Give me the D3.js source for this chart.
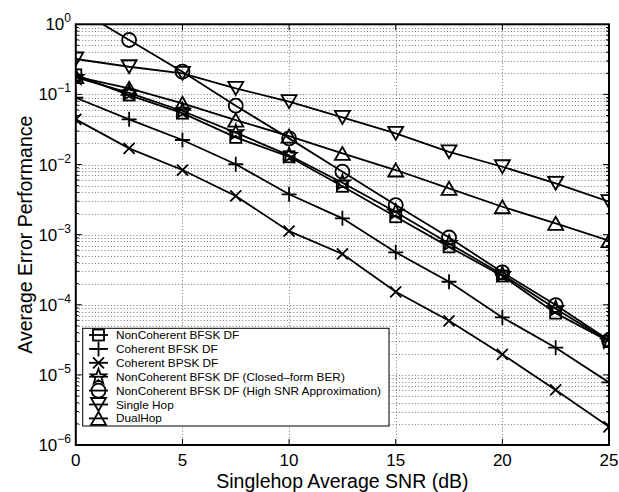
<!DOCTYPE html>
<meta charset="utf-8">
<script src="https://cdn.jsdelivr.net/npm/d3@7"></script>
<style>
  body { margin: 0; background: #fff; }
  text { font-family: "Liberation Sans", Arial, Helvetica, sans-serif; fill: #000; }
</style>
<div id="chart"></div>
<script>
// SNR points (dB)
var snr = [0, 2.5, 5, 7.5, 10, 12.5, 15, 17.5, 20, 22.5, 25];

// error performance per curve
var ncBfskDF     = [0.19, 0.098, 0.054, 0.0244, 0.0129, 0.0049, 0.0018, 6.7e-4, 2.57e-4, 7.6e-5, 3.0e-5];
var cohBfskDF    = [0.0897, 0.0441, 0.0224, 0.0101, 0.00376, 0.00171, 5.6e-4, 2.13e-4, 6.6e-5, 2.44e-5, 7.8e-6];
var cohBpskDF    = [0.0441, 0.017, 0.00835, 0.00356, 0.00112, 5.3e-4, 1.53e-4, 5.9e-5, 1.96e-5, 6.1e-6, 1.82e-6];
var ncClosedForm = [0.175, 0.105, 0.058, 0.0285, 0.0135, 0.0055, 0.0021, 7.5e-4, 2.7e-4, 8.8e-5, 3.0e-5];
var ncHighSNR    = [1.7, 0.597, 0.211, 0.069, 0.0236, 0.0079, 0.00264, 9.1e-4, 2.9e-4, 9.9e-5, 3.1e-5];
var singleHop    = [0.32, 0.248, 0.2, 0.122, 0.0787, 0.047, 0.0279, 0.0152, 0.0093, 0.0054, 0.00295];
var dualHop      = [0.179, 0.122, 0.0746, 0.043, 0.0255, 0.0144, 0.00835, 0.00457, 0.0025, 0.00145, 8.2e-4];

var legendLabels = [
  "NonCoherent BFSK DF",
  "Coherent BFSK DF",
  "Coherent BPSK DF",
  "NonCoherent BFSK DF (Closed\u2013form BER)",
  "NonCoherent BFSK DF (High SNR Approximation)",
  "Single Hop",
  "DualHop"
];
var markers = ["square", "plus", "x", "star", "circle", "tridown", "triup"];
var seriesList = [ncBfskDF, cohBfskDF, cohBpskDF, ncClosedForm, ncHighSNR, singleHop, dualHop];

var xTicks = [0, 5, 10, 15, 20, 25];
var yExps = [0, -1, -2, -3, -4, -5, -6];

var W = 619, H = 492;
var L = 75.8, R = 609, T = 24.3, B = 445;

var svg = d3.select("#chart").append("svg").attr("width", W).attr("height", H);

var x = d3.scaleLinear().domain([0, 25]).range([L, R]);
var y = d3.scaleLog().domain([1e-6, 1]).range([B, T]);

svg.append("clipPath").attr("id", "clip")
  .append("rect").attr("x", L).attr("y", T).attr("width", R - L).attr("height", B - T);

// grid - minor log lines + decades
var minor = [];
yExps.forEach(function (e) {
  if (e > -6) for (var k = 1; k < 10; k++) minor.push(k * Math.pow(10, e - 1));
});
var grid = svg.append("g").attr("stroke", "#555").attr("stroke-width", 0.8).attr("stroke-dasharray", "1,2.2");
grid.selectAll("line.h").data(minor).enter().append("line")
  .attr("x1", L).attr("x2", R)
  .attr("y1", function (d) { return Math.round(y(d)) + 0.5; })
  .attr("y2", function (d) { return Math.round(y(d)) + 0.5; });
grid.selectAll("line.v").data(xTicks.slice(1, -1)).enter().append("line")
  .attr("y1", T).attr("y2", B)
  .attr("x1", function (d) { return Math.round(x(d)) + 0.5; })
  .attr("x2", function (d) { return Math.round(x(d)) + 0.5; });

// ticks (inside, all four sides)
var ticks = svg.append("g").attr("stroke", "#000").attr("stroke-width", 1);
xTicks.forEach(function (d) {
  var px = x(d);
  ticks.append("line").attr("x1", px).attr("x2", px).attr("y1", B).attr("y2", B - 6);
  ticks.append("line").attr("x1", px).attr("x2", px).attr("y1", T).attr("y2", T + 6);
});
minor.forEach(function (d) {
  var py = y(d);
  var major = Math.abs(Math.log10(d) - Math.round(Math.log10(d))) < 1e-9;
  var len = major ? 6 : 3;
  ticks.append("line").attr("x1", L).attr("x2", L + len).attr("y1", py).attr("y2", py);
  ticks.append("line").attr("x1", R).attr("x2", R - len).attr("y1", py).attr("y2", py);
});

// marker drawing
function marker(g, type, cx, cy) {
  var m = g.append("g").attr("transform", "translate(" + cx + "," + cy + ")")
    .attr("fill", "none").attr("stroke", "#000").attr("stroke-width", 1.8);
  if (type === "square") m.append("rect").attr("x", -5.5).attr("y", -5.5).attr("width", 11).attr("height", 11);
  else if (type === "circle") m.append("circle").attr("r", 7);
  else if (type === "plus") m.append("path").attr("d", "M-7.5,0H7.5M0,-7.5V7.5");
  else if (type === "x") m.append("path").attr("d", "M-5.5,-5.5L5.5,5.5M-5.5,5.5L5.5,-5.5");
  else if (type === "tridown") m.append("path").attr("d", "M-7.5,-6.5L7.5,-6.5L0,6.5Z");
  else if (type === "triup") m.append("path").attr("d", "M-7.5,6.5L7.5,6.5L0,-6.5Z");
  else if (type === "star") {
    var pts = [];
    for (var i = 0; i < 10; i++) {
      var r = i % 2 === 0 ? 8 : 3.3;
      var a = -Math.PI / 2 + i * Math.PI / 5;
      pts.push([r * Math.cos(a), r * Math.sin(a)]);
    }
    m.append("path").attr("d", "M" + pts.join("L") + "Z");
  }
}

var plot = svg.append("g").attr("clip-path", "url(#clip)");
var line = d3.line().x(function (d) { return x(d[0]); }).y(function (d) { return y(d[1]); });

seriesList.forEach(function (vals, i) {
  var pts = snr.map(function (s, j) { return [s, vals[j]]; });
  plot.append("path").datum(pts).attr("d", line)
    .attr("fill", "none").attr("stroke", "#000").attr("stroke-width", 1.8);
  pts.forEach(function (p) {
    if (p[1] <= 1) marker(plot, markers[i], x(p[0]), y(p[1]));
  });
});

// frame
svg.append("rect").attr("x", L).attr("y", T).attr("width", R - L).attr("height", B - T)
  .attr("fill", "none").attr("stroke", "#000").attr("stroke-width", 2);

// tick labels
xTicks.forEach(function (d) {
  svg.append("text").attr("x", x(d)).attr("y", 465.5).attr("text-anchor", "middle")
    .attr("font-size", 17).text(d);
});
yExps.forEach(function (e) {
  var t = svg.append("text").attr("x", 71).attr("y", y(Math.pow(10, e)) + 6)
    .attr("text-anchor", "end").attr("font-size", 17);
  t.append("tspan").text("10");
  t.append("tspan").attr("font-size", 12).attr("dy", -8)
    .text(e === 0 ? "0" : "\u2212" + Math.abs(e));
});

// axis labels
svg.append("text").attr("x", (L + R) / 2).attr("y", 487.5).attr("text-anchor", "middle")
  .attr("font-size", 19.5).text("Singlehop Average SNR (dB)");
svg.append("text").attr("transform", "translate(32," + ((T + B) / 2) + ") rotate(-90)")
  .attr("text-anchor", "middle").attr("font-size", 19.5).text("Average Error Performance");

// legend
var lg = svg.append("g");
lg.append("rect").attr("x", 82.7).attr("y", 328.3).attr("width", 389 - 82.7).attr("height", 426 - 328.3)
  .attr("fill", "#fff").attr("stroke", "#000").attr("stroke-width", 1);
legendLabels.forEach(function (lab, i) {
  var ly = 335 + i * 13.9;
  lg.append("line").attr("x1", 89).attr("x2", 108).attr("y1", ly).attr("y2", ly)
    .attr("stroke", "#000").attr("stroke-width", 1.8);
  marker(lg, markers[i], 98.5, ly);
  lg.append("text").attr("x", 116).attr("y", ly + 4).attr("font-size", 11.8).text(lab);
});
</script>
